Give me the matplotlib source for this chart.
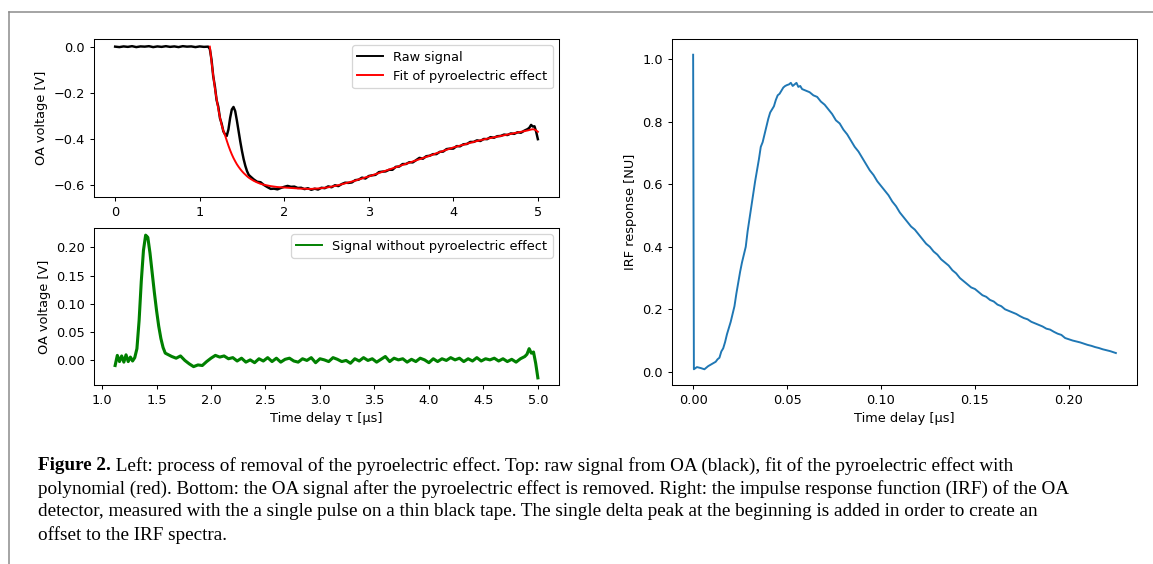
import numpy as np
import matplotlib
matplotlib.use("Agg")
import matplotlib.pyplot as plt
from matplotlib.lines import Line2D

# ---------------- data ----------------
# raw signal before the pyroelectric onset (V)
pre_t = [0.00, 0.05, 0.10, 0.15, 0.20, 0.25, 0.30, 0.35, 0.40, 0.45, 0.50, 0.55,
         0.60, 0.65, 0.70, 0.75, 0.80, 0.85, 0.90, 0.95, 1.00, 1.05, 1.10]
pre_v = [0.000, -0.002, 0.001, -0.001, 0.002, -0.002, 0.001, 0.000, 0.002, -0.002, 0.001, -0.001,
         0.002, -0.001, 0.001, -0.002, 0.002, 0.000, 0.001, -0.002, 0.001, -0.001, 0.000]

# common time grid after the onset (us)
sig_t = [1.12, 1.14, 1.16, 1.18, 1.20, 1.22, 1.24, 1.26, 1.28, 1.30, 1.32, 1.34, 1.36, 1.38,
         1.40, 1.42, 1.44, 1.46, 1.48, 1.50, 1.52, 1.54, 1.56, 1.58, 1.60,
         1.64, 1.68, 1.72, 1.76, 1.80, 1.84, 1.88, 1.92, 1.96, 2.00, 2.04, 2.08, 2.12, 2.16,
         2.20, 2.24, 2.28, 2.32, 2.36, 2.40, 2.44, 2.48, 2.52, 2.56, 2.60, 2.64, 2.68, 2.72,
         2.76, 2.80, 2.84, 2.88, 2.92, 2.96, 3.00, 3.04, 3.08, 3.12, 3.16, 3.20, 3.24, 3.28,
         3.32, 3.36, 3.40, 3.44, 3.48, 3.52, 3.56, 3.60, 3.64, 3.68, 3.72, 3.76, 3.80, 3.84,
         3.88, 3.92, 3.96, 4.00, 4.04, 4.08, 4.12, 4.16, 4.20, 4.24, 4.28, 4.32, 4.36, 4.40,
         4.44, 4.48, 4.52, 4.56, 4.60, 4.64, 4.68, 4.72, 4.76, 4.80, 4.84, 4.88,
         4.90, 4.92, 4.94, 4.96, 4.98, 5.00]

# polynomial fit of the pyroelectric effect (V)
fit_v = [0.000, -0.065, -0.125, -0.180, -0.228, -0.270, -0.308, -0.340, -0.366, -0.385, -0.408,
         -0.430, -0.450, -0.468, -0.484, -0.498, -0.511, -0.522, -0.532, -0.541, -0.549, -0.556,
         -0.563, -0.569, -0.574,
         -0.583, -0.590, -0.596, -0.600, -0.603, -0.606, -0.608, -0.610, -0.611, -0.612, -0.613,
         -0.614, -0.615, -0.616, -0.617, -0.617, -0.618, -0.618, -0.617, -0.616, -0.615, -0.613,
         -0.611, -0.608, -0.605, -0.602, -0.598, -0.594, -0.590, -0.586, -0.582, -0.577, -0.573,
         -0.568, -0.564, -0.559, -0.554, -0.549, -0.544, -0.539, -0.534, -0.529, -0.524, -0.519,
         -0.514, -0.509, -0.504, -0.499, -0.494, -0.489, -0.484, -0.479, -0.474, -0.469, -0.463,
         -0.458, -0.453, -0.448, -0.443, -0.438, -0.434, -0.430, -0.426, -0.422, -0.418, -0.414,
         -0.410, -0.407, -0.403, -0.400, -0.397, -0.394, -0.391, -0.388, -0.385, -0.382, -0.379,
         -0.376, -0.373, -0.370, -0.367, -0.364,
         -0.362, -0.360, -0.359, -0.360, -0.364, -0.370]

# signal without the pyroelectric effect (V)
clean_v = [-0.010, 0.008, -0.003, 0.007, -0.004, 0.009, -0.003, 0.005, -0.002, 0.004, 0.020,
           0.070, 0.140, 0.195, 0.222, 0.218, 0.190, 0.155, 0.120, 0.088, 0.060, 0.038,
           0.022, 0.012, 0.010,
           0.006, 0.003, 0.007, -0.001, -0.007, -0.012, -0.009, -0.010, -0.003, 0.003, 0.008,
           0.005, 0.007, 0.002, 0.004, -0.002, 0.003, -0.004, 0.000, -0.005, 0.002, -0.002,
           0.004, -0.003, 0.003, -0.004, 0.001, 0.003, -0.002, -0.004, 0.002, -0.001, 0.004,
           -0.005, 0.002, 0.000, -0.003, 0.004, 0.001, -0.003, -0.001, -0.006, 0.002, -0.002,
           0.004, -0.001, 0.002, -0.004, 0.001, 0.006, -0.003, 0.003, 0.000, 0.002, -0.004,
           0.001, -0.003, 0.003, 0.000, -0.005, 0.002, -0.003, 0.002, -0.001, 0.004, 0.000,
           0.003, -0.003, 0.002, -0.002, 0.004, -0.002, 0.002, 0.000, 0.003, -0.002, 0.002,
           -0.003, 0.001, -0.004, 0.002, 0.006,
           0.010, 0.020, 0.012, 0.014, -0.006, -0.032]

# impulse response function
irf_t = [0.0000, 0.0004, 0.002, 0.004, 0.006, 0.008, 0.010, 0.012, 0.013, 0.014, 0.015, 0.016,
         0.017, 0.018, 0.019, 0.020, 0.021, 0.022, 0.023, 0.024, 0.025, 0.026, 0.027, 0.028,
         0.029, 0.030, 0.031, 0.032, 0.033, 0.034, 0.035, 0.036, 0.037, 0.038, 0.039, 0.040,
         0.041, 0.042, 0.043, 0.044, 0.045, 0.046, 0.047, 0.048, 0.049, 0.050, 0.051, 0.052,
         0.053, 0.054, 0.055, 0.056, 0.057, 0.058, 0.060, 0.062, 0.064, 0.066, 0.068, 0.070,
         0.072, 0.074, 0.076, 0.078, 0.080, 0.082, 0.084, 0.086, 0.088, 0.090, 0.092, 0.094,
         0.096, 0.098, 0.100, 0.102, 0.104, 0.106, 0.108, 0.110, 0.112, 0.114, 0.116, 0.118,
         0.120, 0.122, 0.124, 0.126, 0.128, 0.130, 0.132, 0.134, 0.136, 0.138, 0.140, 0.142,
         0.144, 0.146, 0.148, 0.150, 0.152, 0.154, 0.156, 0.158, 0.160, 0.162, 0.164, 0.166,
         0.168, 0.170, 0.172, 0.174, 0.176, 0.178, 0.180, 0.182, 0.184, 0.186, 0.188, 0.190,
         0.192, 0.194, 0.196, 0.198, 0.200, 0.202, 0.204, 0.206, 0.208, 0.210, 0.212, 0.214,
         0.216, 0.218, 0.220, 0.222, 0.224, 0.225]
irf_v = [1.015, 0.008, 0.015, 0.012, 0.008, 0.018, 0.025, 0.032, 0.040, 0.045, 0.065, 0.075,
         0.095, 0.120, 0.140, 0.160, 0.185, 0.210, 0.250, 0.285, 0.320, 0.350, 0.375, 0.400,
         0.450, 0.490, 0.530, 0.570, 0.610, 0.645, 0.680, 0.720, 0.735, 0.760, 0.785, 0.810,
         0.830, 0.840, 0.850, 0.870, 0.885, 0.890, 0.900, 0.910, 0.915, 0.918, 0.920, 0.925,
         0.915, 0.920, 0.925, 0.912, 0.915, 0.905, 0.900, 0.895, 0.885, 0.880, 0.865, 0.855,
         0.840, 0.825, 0.805, 0.795, 0.775, 0.760, 0.740, 0.720, 0.705, 0.685, 0.665, 0.645,
         0.630, 0.610, 0.595, 0.580, 0.565, 0.545, 0.530, 0.510, 0.495, 0.480, 0.465, 0.455,
         0.440, 0.425, 0.410, 0.400, 0.385, 0.375, 0.360, 0.350, 0.340, 0.325, 0.315, 0.300,
         0.290, 0.280, 0.270, 0.265, 0.255, 0.245, 0.240, 0.230, 0.225, 0.215, 0.210, 0.200,
         0.195, 0.190, 0.185, 0.178, 0.172, 0.168, 0.160, 0.155, 0.150, 0.145, 0.138, 0.135,
         0.128, 0.122, 0.118, 0.108, 0.104, 0.100, 0.097, 0.094, 0.090, 0.086, 0.083, 0.079,
         0.076, 0.072, 0.069, 0.066, 0.062, 0.060]

caption_bold = "Figure 2."
caption_lines = [
    " Left: process of removal of the pyroelectric effect. Top: raw signal from OA (black), fit of the pyroelectric effect with",
    "polynomial (red). Bottom: the OA signal after the pyroelectric effect is removed. Right: the impulse response function (IRF) of the OA",
    "detector, measured with the a single pulse on a thin black tape. The single delta peak at the beginning is added in order to create an",
    "offset to the IRF spectra.",
]

# ---------------- figure ----------------
DPI = 92.5
W, H = 1153, 564
fig = plt.figure(figsize=(W / DPI, H / DPI), dpi=DPI)

def box(l, t, r, b):
    return [l / W, 1 - b / H, (r - l) / W, (b - t) / H]

ax1 = fig.add_axes(box(94, 39, 559, 197))
ax2 = fig.add_axes(box(94, 228, 559, 385))
ax3 = fig.add_axes(box(672, 39, 1137, 385))

sig_t_a = np.array(sig_t)
fit_a = np.array(fit_v)
clean_a = np.array(clean_v)
raw_t = np.concatenate([pre_t, sig_t_a])
raw_v = np.concatenate([pre_v, fit_a + clean_a])

ax1.plot(raw_t, raw_v, color="black", lw=1.9, label="Raw signal")
ax1.plot(sig_t_a, fit_a, color="red", lw=1.5, label="Fit of pyroelectric effect")
ax1.set_ylabel("OA voltage [V]")
ax1.set_yticks([0.0, -0.2, -0.4, -0.6])
ax1.legend(loc="upper right", handlelength=2.0)
for h in ax1.get_legend().legend_handles:
    h.set_linewidth(1.5)

ax2.plot(sig_t_a, clean_a, color="green", lw=2.4, label="Signal without pyroelectric effect")
ax2.set_ylabel("OA voltage [V]")
ax2.set_xlabel("Time delay τ [µs]")
ax2.set_yticks([0.0, 0.05, 0.10, 0.15, 0.20])
ax2.set_yticklabels(["0.00", "0.05", "0.10", "0.15", "0.20"])
ax2.legend(loc="upper right")
for h in ax2.get_legend().legend_handles:
    h.set_linewidth(1.5)

ax3.plot(irf_t, irf_v, color="#1f77b4", lw=1.5)
ax3.set_ylabel("IRF response [NU]")
ax3.set_xlabel("Time delay [µs]")

# outer frame of the figure panel
fig.add_artist(Line2D([9 / W, 9 / W], [0, 1 - 12 / H], transform=fig.transFigure,
                      color="#8c8c8c", lw=1.2))
fig.add_artist(Line2D([9 / W, 1], [1 - 12 / H, 1 - 12 / H], transform=fig.transFigure,
                      color="#8c8c8c", lw=1.2))

# caption
x0 = 38
target_widths = [1000 - x0, 1140 - x0, 1000 - x0]
serif = "Liberation Serif"
fig.canvas.draw()
renderer = fig.canvas.get_renderer()
measured = 0.0
pb = fig.text(0, 0, caption_bold, family=serif, weight="bold", fontsize=12)
measured += pb.get_window_extent(renderer).width
pb.remove()
for line in caption_lines[:3]:
    probe = fig.text(0, 0, line, family=serif, fontsize=12)
    measured += probe.get_window_extent(renderer).width
    probe.remove()
fs = 12 * sum(target_widths) / measured

ys = [466, 489, 512, 535]
tb = fig.text(x0 / W, 1 - ys[0] / H, caption_bold, family=serif, weight="bold",
              fontsize=fs, va="center", ha="left")
bb = tb.get_window_extent(renderer)
fig.text(bb.x1 / W, 1 - ys[0] / H, caption_lines[0], family=serif,
         fontsize=fs, va="center", ha="left")
for y, line in zip(ys[1:], caption_lines[1:]):
    fig.text(x0 / W, 1 - y / H, line, family=serif, fontsize=fs, va="center", ha="left")

fig.savefig("out.png", dpi=DPI)
